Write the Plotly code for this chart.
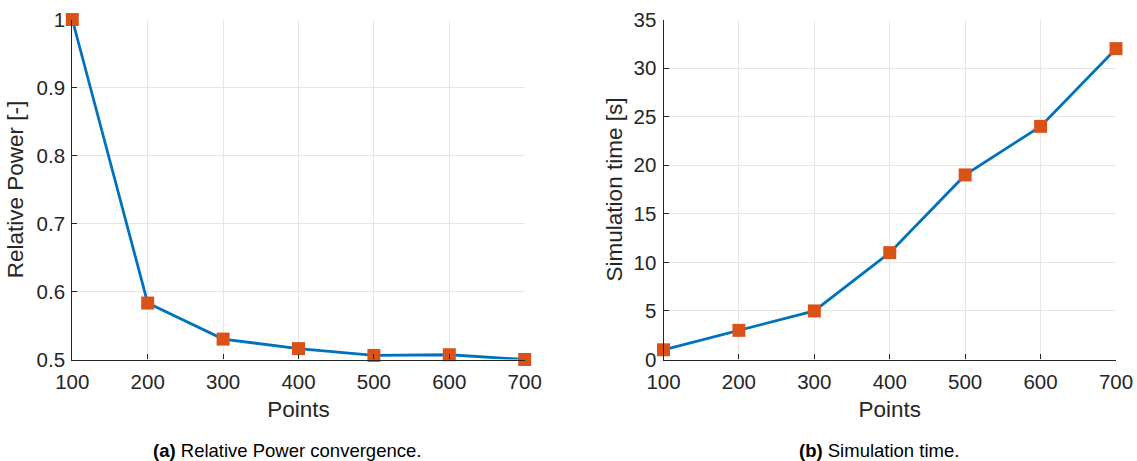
import plotly.graph_objects as go

points = [100, 200, 300, 400, 500, 600, 700]
relative_power = [1.0, 0.583, 0.530, 0.516, 0.506, 0.507, 0.500]
sim_time = [1, 3, 5, 11, 19, 24, 32]

power_ticks = [0.5, 0.6, 0.7, 0.8, 0.9, 1.0]
power_ticktext = ["0.5", "0.6", "0.7", "0.8", "0.9", "1"]
time_ticks = [0, 5, 10, 15, 20, 25, 30, 35]

line_color = "#0072BD"
marker_color = "#D95319"
font_family = "Liberation Sans, Arial, sans-serif"

W, H = 1137, 461


def px_x(x):
    return x / W


def px_y(y):
    return 1 - y / H


fig = go.Figure()
for y, xa, ya in [(relative_power, "x", "y"), (sim_time, "x2", "y2")]:
    fig.add_trace(go.Scatter(
        x=points, y=y, xaxis=xa, yaxis=ya, mode="lines+markers",
        line=dict(color=line_color, width=2.8),
        marker=dict(symbol="square", size=13, color=marker_color),
        cliponaxis=False, showlegend=False,
    ))

axis_common = dict(
    showgrid=True, gridcolor="#e6e6e6", gridwidth=1,
    showline=True, linecolor="#262626", linewidth=1.2,
    ticks="inside", ticklen=5, tickcolor="#262626",
    tickfont=dict(family=font_family, size=20.5, color="#262626"),
    zeroline=False, mirror=False, automargin=False,
    ticklabeloverflow="allow",
)
title_font = dict(family=font_family, size=22.5, color="#262626")

fig.update_layout(
    width=W, height=H,
    margin=dict(l=0, r=0, t=0, b=0, autoexpand=False),
    paper_bgcolor="white", plot_bgcolor="white",
    font=dict(family=font_family, color="#262626"),
    xaxis=dict(domain=[px_x(72.3), px_x(524.7)], anchor="y", range=[100, 700],
               tickvals=points, ticklabelstandoff=4,
               title=dict(text="Points", font=title_font, standoff=9), **axis_common),
    yaxis=dict(domain=[px_y(359.5), px_y(19.5)], anchor="x", range=[0.5, 1.0],
               tickvals=power_ticks, ticktext=power_ticktext, ticklabelstandoff=2,
               title=dict(text="Relative Power [-]", font=title_font, standoff=6), **axis_common),
    xaxis2=dict(domain=[px_x(663.5), px_x(1116)], anchor="y2", range=[100, 700],
                tickvals=points, ticklabelstandoff=4,
                title=dict(text="Points", font=title_font, standoff=9), **axis_common),
    yaxis2=dict(domain=[px_y(359.5), px_y(19.5)], anchor="x2", range=[0, 35],
                tickvals=time_ticks, ticklabelstandoff=2,
                title=dict(text="Simulation time [s]", font=title_font, standoff=4), **axis_common),
    annotations=[
        dict(text="<b>(a)</b> Relative Power convergence.", x=px_x(287), y=px_y(450),
             xref="paper", yref="paper", showarrow=False, xanchor="center", yanchor="middle",
             font=dict(family=font_family, size=18.5, color="#000000")),
        dict(text="<b>(b)</b> Simulation time.", x=px_x(879), y=px_y(450),
             xref="paper", yref="paper", showarrow=False, xanchor="center", yanchor="middle",
             font=dict(family=font_family, size=18.5, color="#000000")),
    ],
)

fig.write_html(
    "out.html",
    config={"displayModeBar": False},
    post_script="document.body.style.margin='0';document.body.style.overflow='hidden';",
)
